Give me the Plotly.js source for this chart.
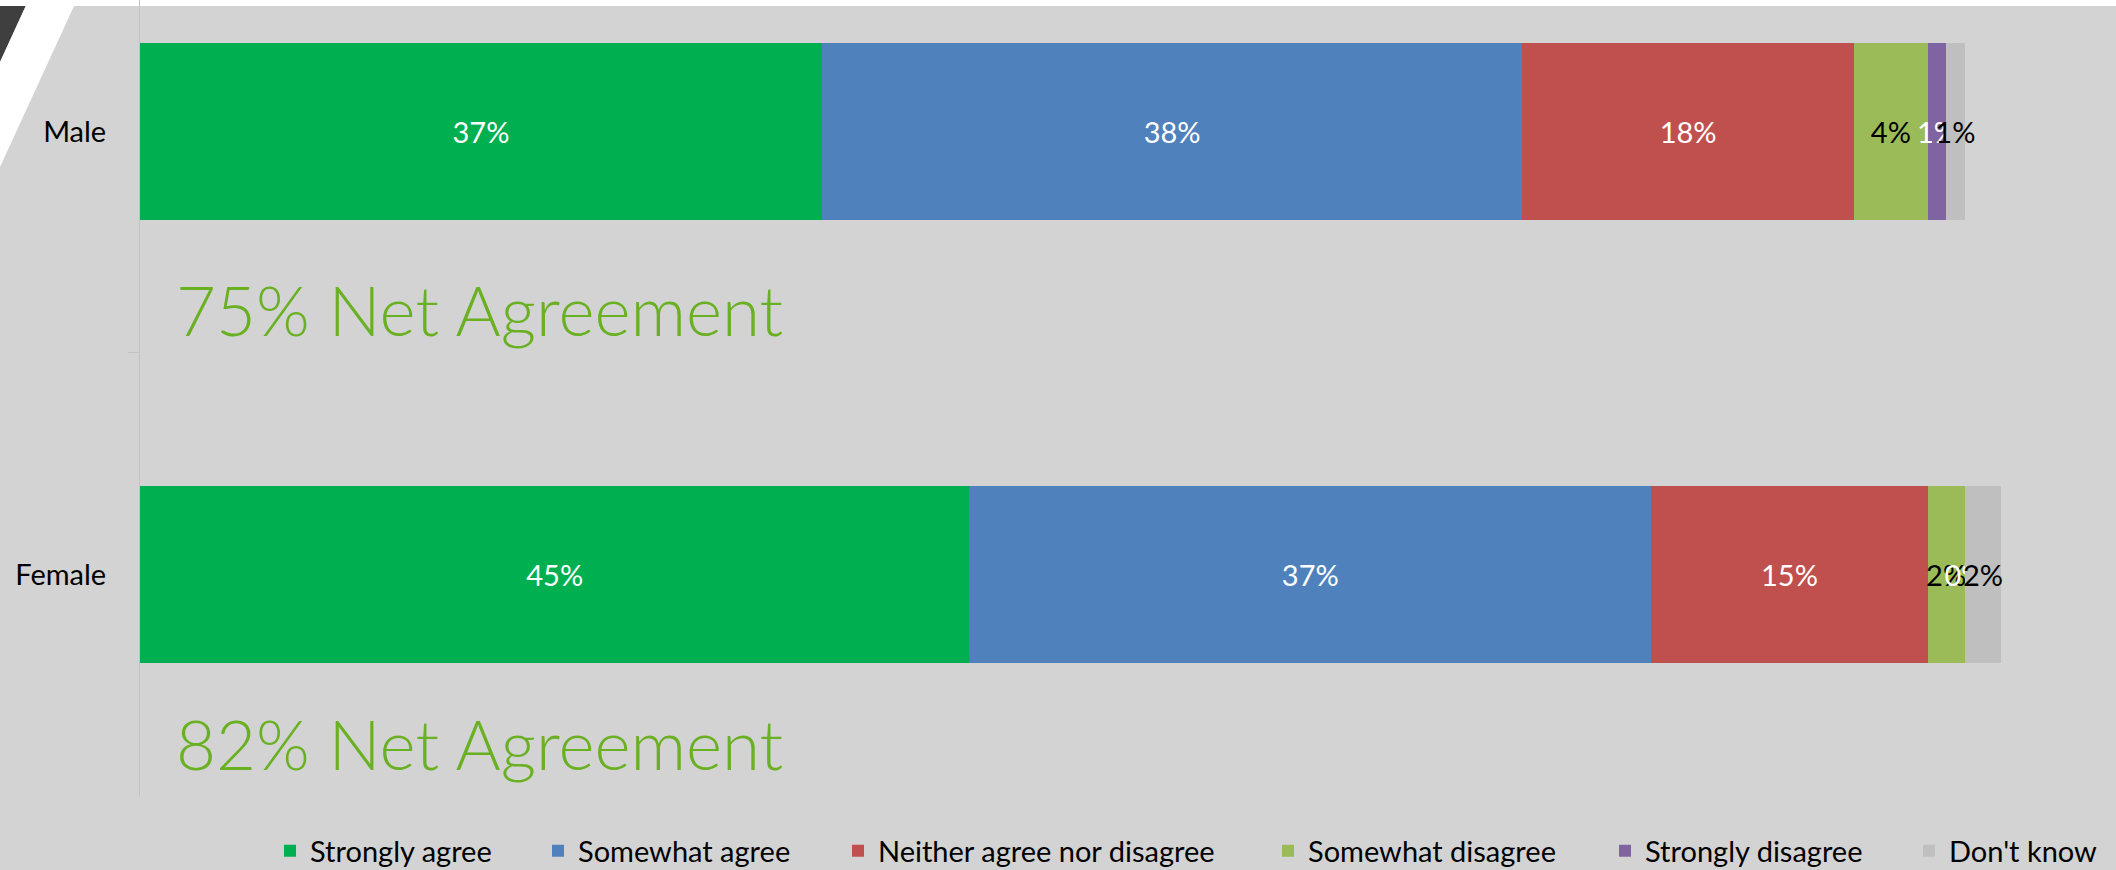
<!DOCTYPE html>
<html>
<head>
<meta charset="utf-8">
<script src="https://cdn.plot.ly/plotly-3.0.1.min.js"></script>
<style>html,body{margin:0;padding:0;background:#d3d3d3;}#chart{width:2116px;height:870px;}</style>
</head>
<body>
<div id="chart"></div>
<script>
// ---- data ----
const categories = ['Male', 'Female'];
const seriesNames = ['Strongly agree', 'Somewhat agree', 'Neither agree nor disagree', 'Somewhat disagree', 'Strongly disagree', "Don't know"];
const stronglyAgree = [37, 45];
const somewhatAgree = [38, 37];
const neitherAgree = [18, 15];
const somewhatDisagree = [4, 2];
const stronglyDisagree = [1, 0];
const dontKnow = [1, 2];

// ---- styling ----
const seriesValues = [stronglyAgree, somewhatAgree, neitherAgree, somewhatDisagree, stronglyDisagree, dontKnow];
const colors = ['#00b050', '#4f81bd', '#c0504d', '#9bbb59', '#8064a2', '#bfbfbf'];
const textColors = ['#ffffff', '#ffffff', '#ffffff', '#000000', '#ffffff', '#000000'];
const legendTextLeft = [315, 583, 883, 1313, 1650, 1954];

const W = 2116, H = 870, ML = 140, MB = 74, MT = 0;
const plotW = W - ML, plotH = H - MT - MB;
const px2x = p => (p - ML) / plotW;
const px2y = p => (plotH - (p - MT)) / plotH;

const traces = seriesValues.map((vals, i) => ({
  type: 'bar',
  orientation: 'h',
  name: seriesNames[i],
  y: categories,
  x: vals,
  text: vals.map(v => v + '%'),
  // zero-width segments keep their label (Excel shows "0%")
  textposition: vals.map(v => v === 0 ? 'outside' : 'inside'),
  insidetextanchor: 'middle',
  textangle: 0,
  constraintext: 'none',
  cliponaxis: false,
  textfont: {family: 'Lato, sans-serif', size: 29, color: textColors[i]},
  insidetextfont: {family: 'Lato, sans-serif', size: 29, color: textColors[i]},
  outsidetextfont: {family: 'Lato, sans-serif', size: 29, color: textColors[i]},
  marker: {color: colors[i], line: {width: 0}},
  legend: i === 0 ? 'legend' : 'legend' + (i + 1),
  hoverinfo: 'none'
}));

const layout = {
  width: W, height: H,
  margin: {l: ML, r: 0, t: MT, b: MB, pad: 0, autoexpand: false},
  paper_bgcolor: '#d3d3d3',
  plot_bgcolor: 'rgba(0,0,0,0)',
  barmode: 'stack',
  bargap: 0.6,
  showlegend: true,
  font: {family: 'Lato, sans-serif', size: 29, color: '#000000'},
  xaxis: {range: [0, plotW / 18.43], showgrid: false, zeroline: false, showticklabels: false, showline: false, ticks: '', automargin: false},
  yaxis: {
    type: 'category', categoryorder: 'array', categoryarray: categories,
    range: [1.5, -0.2968],
    automargin: false,
    showline: true, linecolor: '#c3c3c3', linewidth: 1,
    ticks: 'outside', tickson: 'boundaries', ticklen: 11, tickcolor: '#c3c3c3', tickwidth: 1,
    showgrid: false, zeroline: false,
    tickfont: {family: 'Lato, sans-serif', size: 29, color: '#000000'},
    ticklabelstandoff: 27
  },
  shapes: [
    {type: 'path', xref: 'paper', yref: 'paper', layer: 'below', line: {width: 0}, fillcolor: '#3f3f3f',
     path: `M${px2x(0)},${px2y(0)} L${px2x(28.5)},${px2y(0)} L${px2x(0)},${px2y(62)} Z`},
    {type: 'path', xref: 'paper', yref: 'paper', layer: 'below', line: {width: 0}, fillcolor: '#ffffff',
     path: `M${px2x(28.5)},${px2y(0)} L${px2x(76.8)},${px2y(0)} L${px2x(0)},${px2y(167)} L${px2x(0)},${px2y(62)} Z`},
    {type: 'rect', xref: 'paper', yref: 'paper', layer: 'below', line: {width: 0}, fillcolor: '#ffffff',
     x0: px2x(0), x1: 1, y0: px2y(6), y1: 1}
  ],
  annotations: categories.map((c, i) => ({
    xref: 'paper', yref: 'paper',
    x: px2x(174), y: px2y(i === 0 ? 309 : 743.5),
    xanchor: 'left', yanchor: 'middle',
    showarrow: false,
    text: (stronglyAgree[i] + somewhatAgree[i]) + '% Net Agreement',
    font: {family: 'Lato, sans-serif', size: 69, weight: 300, color: '#6ab023'}
  }))
};

seriesNames.forEach((n, i) => {
  const key = i === 0 ? 'legend' : 'legend' + (i + 1);
  layout[key] = {
    orientation: 'h',
    x: px2x(legendTextLeft[i] - 45), xanchor: 'left',
    y: px2y(851), yanchor: 'middle',
    bgcolor: 'rgba(0,0,0,0)', borderwidth: 0,
    font: {family: 'Lato, sans-serif', size: 29, color: '#000000'},
    itemclick: false, itemdoubleclick: false
  };
});

Plotly.newPlot('chart', traces, layout, {displayModeBar: false, staticPlot: true});
</script>
</body>
</html>
